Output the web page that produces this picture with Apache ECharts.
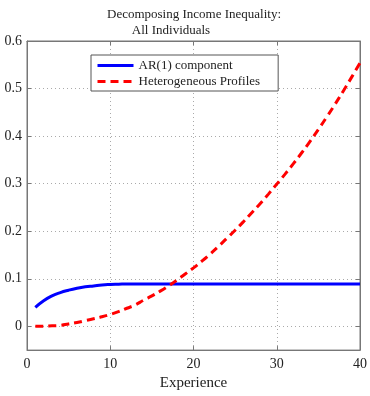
<!DOCTYPE html>
<html>
<head>
<meta charset="utf-8">
<script src="https://cdn.jsdelivr.net/npm/echarts@6/dist/echarts.min.js"></script>
<style>
  html, body { margin: 0; padding: 0; background: #fff; }
  #chart { width: 370px; height: 396px; }
</style>
</head>
<body>
<div id="chart"></div>
<script>
// Years of labour-market experience
var experience = [1,2,3,4,5,6,7,8,9,10,11,12,13,14,15,16,17,18,19,20,
                  21,22,23,24,25,26,27,28,29,30,31,32,33,34,35,36,37,38,39,40];

// Variance contribution of the persistent AR(1) shock
var arComponent = [0.040,0.054,0.064,0.071,0.076,0.080,0.083,0.085,0.087,0.088,
                   0.0885,0.089,0.089,0.089,0.089,0.089,0.089,0.089,0.089,0.089,
                   0.089,0.089,0.089,0.089,0.089,0.089,0.089,0.089,0.089,0.089,
                   0.089,0.089,0.089,0.089,0.089,0.089,0.089,0.089,0.089,0.089];

// Variance contribution of heterogeneous income profiles
var hetProfiles = [0.000,0.000,0.001,0.002,0.005,0.008,0.012,0.016,0.020,0.025,
                   0.031,0.038,0.045,0.055,0.064,0.074,0.085,0.097,0.110,0.123,
                   0.137,0.152,0.168,0.185,0.202,0.220,0.239,0.258,0.278,0.299,
                   0.320,0.342,0.365,0.389,0.414,0.440,0.467,0.495,0.524,0.554];

var xTicks = [0, 10, 20, 30, 40];
var yTicks = [0, 0.1, 0.2, 0.3, 0.4, 0.5, 0.6];

var serif = 'Liberation Serif';
var ink = '#222';
var frame = '#777';

function pairs(xs, ys) {
  return xs.map(function (x, i) { return [x, ys[i]]; });
}

var gridLine = { show: true, lineStyle: { color: '#aaa', type: [1, 3], width: 1 } };
var frameLine = { show: true, onZero: false, lineStyle: { color: frame } };
var innerTick = { show: true, inside: true, length: 4, lineStyle: { color: frame } };

var chart = echarts.init(document.getElementById('chart'), null, { renderer: 'canvas' });
chart.setOption({
  animation: false,
  backgroundColor: '#fff',
  title: [
    { text: 'Decomposing Income Inequality:', left: 189, top: 3, textAlign: 'center',
      textStyle: { fontFamily: serif, fontSize: 13, fontWeight: 'normal', color: ink } },
    { text: 'All Individuals', left: 166, top: 19, textAlign: 'center',
      textStyle: { fontFamily: serif, fontSize: 13, fontWeight: 'normal', color: ink } }
  ],
  grid: { left: 27, right: 9, top: 41, bottom: 35, show: true, borderColor: frame, borderWidth: 1 },
  legend: {
    orient: 'vertical', left: 91, top: 55,
    backgroundColor: '#fff', borderColor: '#555', borderWidth: 1,
    padding: [4, 18, 3, 5], itemGap: 3, itemWidth: 36, itemHeight: 14,
    itemStyle: { opacity: 0 },
    lineStyle: { width: 3 },
    textStyle: { fontFamily: serif, fontSize: 13, color: ink },
    data: ['AR(1) component', 'Heterogeneous Profiles']
  },
  xAxis: [{
    type: 'value', min: 0, max: 40, interval: 10,
    name: 'Experience', nameLocation: 'middle', nameGap: 25,
    nameTextStyle: { fontFamily: serif, fontSize: 15, color: ink },
    axisLine: frameLine,
    axisTick: innerTick,
    axisLabel: { fontFamily: serif, fontSize: 14, color: ink, margin: 7, customValues: xTicks },
    splitLine: gridLine
  }, {
    type: 'value', position: 'top', min: 0, max: 40, interval: 10,
    axisLine: frameLine, axisTick: innerTick,
    axisLabel: { show: false }, splitLine: { show: false }
  }],
  yAxis: [{
    type: 'value', min: -0.05, max: 0.6,
    axisLine: frameLine,
    axisTick: Object.assign({ customValues: yTicks }, innerTick),
    axisLabel: { fontFamily: serif, fontSize: 14, color: ink, margin: 5, customValues: yTicks,
      formatter: function (v) { return String(+v.toFixed(1)); } },
    splitLine: gridLine
  }, {
    type: 'value', position: 'right', min: -0.05, max: 0.6,
    axisLine: frameLine,
    axisTick: Object.assign({ customValues: yTicks }, innerTick),
    axisLabel: { show: false }, splitLine: { show: false }
  }],
  series: [{
    name: 'AR(1) component', type: 'line', smooth: true, symbol: 'none',
    data: pairs(experience, arComponent),
    itemStyle: { color: '#0000ff' },
    lineStyle: { color: '#0000ff', width: 3 }
  }, {
    name: 'Heterogeneous Profiles', type: 'line', smooth: true, symbol: 'none',
    data: pairs(experience, hetProfiles),
    itemStyle: { color: '#ff0000' },
    lineStyle: { color: '#ff0000', width: 3, type: [8, 5] }
  }]
});
</script>
</body>
</html>
